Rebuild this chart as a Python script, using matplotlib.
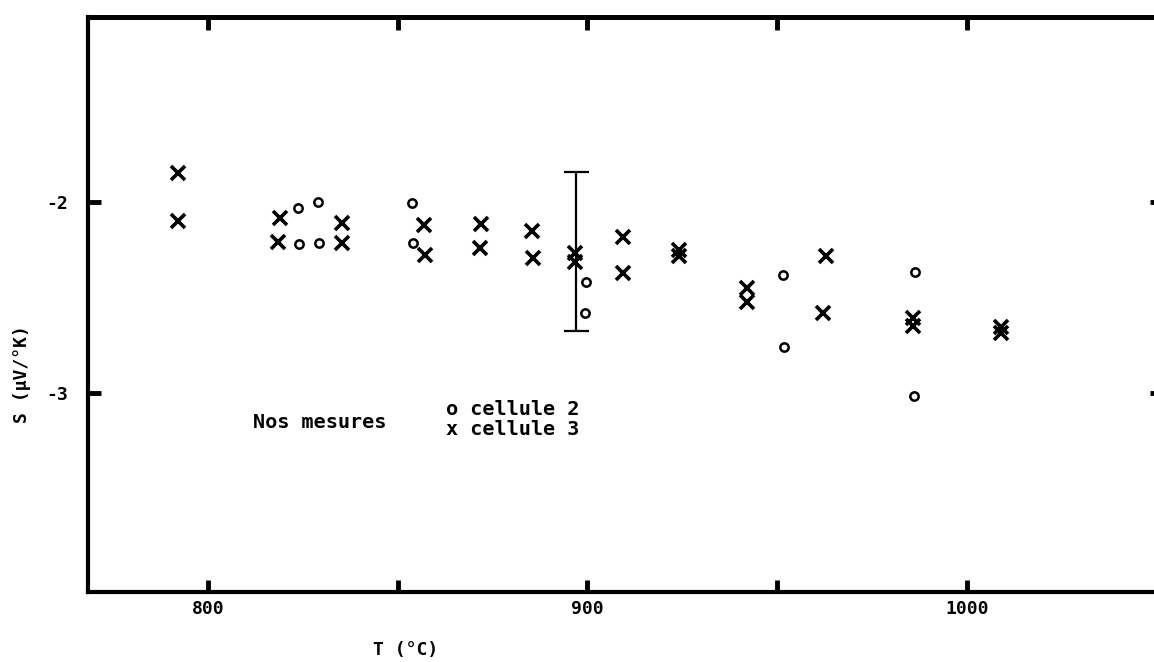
import numpy as np
import matplotlib
matplotlib.use("Agg")
import matplotlib.pyplot as plt

# cellule 3 (croix)
T_cell3 = [792.1, 792.1, 819.0, 818.4, 835.3, 835.3, 856.9, 857.2, 871.9, 871.7,
           885.4, 885.6, 896.7, 896.7, 909.4, 909.4, 924.1, 924.1, 942.0, 942.0,
           962.8, 962.0, 985.8, 985.8, 1009.0, 1009.0]
S_cell3 = [-1.850, -2.101, -2.085, -2.211, -2.112, -2.216, -2.122, -2.279, -2.117, -2.242,
           -2.153, -2.295, -2.269, -2.316, -2.185, -2.373, -2.253, -2.284, -2.452, -2.525,
           -2.284, -2.583, -2.609, -2.651, -2.656, -2.687]

# cellule 2 (cercles)
T_cell2 = [823.7, 829.0, 824.0, 829.2, 853.8, 854.0, 899.6, 899.3, 951.5, 951.8, 986.3, 986.0]
S_cell2 = [-2.033, -2.002, -2.221, -2.216, -2.007, -2.216, -2.420, -2.583, -2.384, -2.761,
           -2.368, -3.017]

# barre d'erreur
T_err = [897.0]
S_err = [-2.26]
S_err_bas = [0.417]
S_err_haut = [0.416]

xticks = [800, 850, 900, 950, 1000]
xticklabels = ["800", "", "900", "", "1000"]
yticks = [-3, -2]
yticklabels = ["-3", "-2"]

mono = "DejaVu Sans Mono"
poids = "semibold"

fig = plt.figure(figsize=(11.54, 6.62), dpi=100)
# le cadre depasse a droite, comme sur le scan
ax = fig.add_axes([88 / 1154, 1 - 592 / 662, (1162 - 88) / 1154, (592 - 17) / 662])

ax.plot(T_cell3, S_cell3, linestyle="none", marker="x", markersize=10,
        markeredgewidth=2.6, color="black")
ax.plot(T_cell2, S_cell2, linestyle="none", marker="o", markersize=6,
        markerfacecolor="white", markeredgewidth=1.8, color="black")
ax.errorbar(T_err, S_err, yerr=[S_err_bas, S_err_haut], fmt="none", ecolor="black",
            elinewidth=1.6, capsize=9, capthick=1.6)

ax.set_xlim(768.4, 800 + (1162 - 208) / 3.795)
ax.set_ylim(-4.04, -1.033)

ax.set_xticks(xticks)
ax.set_xticklabels(xticklabels, fontfamily=mono, fontsize=13, fontweight=poids)
ax.set_yticks(yticks)
ax.set_yticklabels(yticklabels, fontfamily=mono, fontsize=13, fontweight=poids)
ax.tick_params(direction="in", length=9, width=3.5, top=True, right=True, pad=6)
ax.tick_params(axis="y", pad=14)

for sp in ax.spines.values():
    sp.set_linewidth(3)
ax.spines["top"].set_linewidth(3.6)

# legende ecrite dans le graphique
ax.text(811.9, -3.153, "Nos mesures", fontfamily=mono, fontsize=14.5, fontweight=poids,
        va="center", ha="left")
ax.text(862.7, -3.085, "o cellule 2", fontfamily=mono, fontsize=14.5, fontweight=poids,
        va="center", ha="left")
ax.text(862.7, -3.19, "x cellule 3", fontfamily=mono, fontsize=14.5, fontweight=poids,
        va="center", ha="left")

fig.text(406 / 1154, 1 - 650 / 662, "T (°C)", fontfamily=mono, fontsize=13,
         fontweight=poids, ha="center", va="center")
fig.text(22 / 1154, 1 - 374 / 662, "S (μV/°K)", fontfamily=mono, fontsize=13,
         fontweight=poids, ha="center", va="center", rotation=90)

fig.savefig("out.png", dpi=100)
